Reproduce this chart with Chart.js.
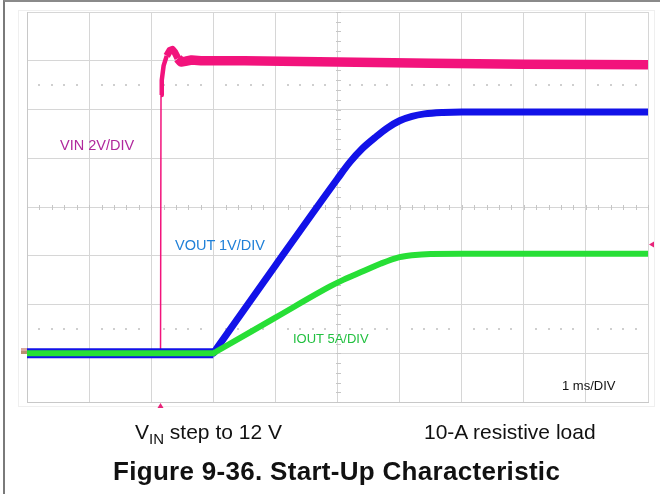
<!DOCTYPE html>
<html>
<head>
<meta charset="utf-8">
<script src="https://cdn.jsdelivr.net/npm/chart.js@4/dist/chart.umd.min.js"></script>
<style>
  html, body { margin: 0; padding: 0; background: #fff; }
  #wrap { position: relative; width: 660px; height: 494px; overflow: hidden; }
  #frame { position: absolute; left: 3px; top: 0; width: 660px; height: 494px;
           border-left: 2px solid #7a7a7a; border-top: 2px solid #8a8a8a; box-sizing: border-box; }
  canvas { position: absolute; left: 0; top: 0; }
  .lbl { position: absolute; white-space: nowrap; line-height: 1;
         font-family: "Liberation Sans", Arial, sans-serif; }
</style>
</head>
<body>
<div id="wrap">
  <div id="frame"></div>
  <canvas id="scope" width="660" height="494"></canvas>
  <div class="lbl" style="left:60px; top:138px; font-size:14.5px; color:#B0289C;">VIN 2V/DIV</div>
  <div class="lbl" style="left:175px; top:238px; font-size:14.5px; color:#2080D8;">VOUT 1V/DIV</div>
  <div class="lbl" style="left:293px; top:332px; font-size:13px; color:#22C040;">IOUT 5A/DIV</div>
  <div class="lbl" style="left:562px; top:379px; font-size:13px; color:#111;">1 ms/DIV</div>
  <div class="lbl" style="left:135px; top:421px; font-size:21px; color:#111;">V<span style="font-size:15px; position:relative; top:5px;">IN</span> step to 12 V</div>
  <div class="lbl" style="left:424px; top:421px; font-size:21px; color:#111;">10-A resistive load</div>
  <div class="lbl" style="left:113px; top:458px; font-size:26px; font-weight:bold; letter-spacing:0.3px; color:#111;">Figure 9-36. Start-Up Characteristic</div>
</div>
<script>
// Start-up capture: time in ms across 10 divisions (1 ms/DIV).
// Channel settings (units per division) and common ground position (divisions).
const vinPerDiv = 2;     // V/DIV
const voutPerDiv = 1;    // V/DIV
const ioutPerDiv = 5;    // A/DIV
const groundDiv = -3;

// Input voltage step to 12 V
const vinTimeMs = [0, 2.15, 2.158, 2.17, 2.2, 2.25, 2.3, 2.34, 2.38, 2.43, 2.48, 2.55, 2.65, 2.8, 3.5, 5.0, 6.5, 8.0, 10.0];
const vinVolts  = [0, 0,    10.6,  11.2, 11.8, 12.2, 12.42, 12.47, 12.35, 12.1, 11.95, 11.98, 12.03, 12.0, 12.0, 11.95, 11.9, 11.86, 11.84];

// Output voltage soft-start ramp
const voutTimeMs = [0, 3.0, 3.05, 4.0, 5.0, 5.2, 5.4, 5.6, 5.8, 6.0, 6.2, 6.4, 6.7, 7.0, 10.0];
const voutVolts  = [0, 0,   0.09, 1.80, 3.58, 3.92, 4.2, 4.42, 4.62, 4.77, 4.86, 4.91, 4.94, 4.95, 4.95];

// Output current into the 10-A resistive load
const ioutTimeMs = [0, 3.0, 3.05, 4.0, 4.88, 5.1, 5.4, 5.7, 6.0, 6.2, 6.5, 7.0, 10.0];
const ioutAmps   = [0, 0,   0.18, 3.65, 6.85, 7.55, 8.38, 9.2, 9.85, 10.05, 10.18, 10.2, 10.2];

const vinStepMs = 2.15;       // trigger position
const triggerLevelV = 4.46;   // trigger level on VIN

function toDivs(times, values, perDiv) {
  return times.map((t, i) => ({ x: t, y: values[i] / perDiv + groundDiv }));
}

// Scope graticule details: centre-line minor ticks, dotted rows and channel markers
const graticule = {
  id: 'graticule',
  beforeDatasetsDraw(chart) {
    const { ctx, chartArea: a, scales: { x, y } } = chart;
    ctx.save();
    ctx.strokeStyle = '#efefef';
    ctx.lineWidth = 1;
    ctx.strokeRect(18.5, 10.5, 636, 396);
    ctx.fillStyle = '#c6c6c6';
    const xc = Math.round(x.getPixelForValue(5));
    const yc = Math.round(y.getPixelForValue(0));
    for (let i = 0; i <= 50; i++) {
      const px = Math.round(x.getPixelForValue(i * 0.2));
      ctx.fillRect(px, yc - 2, 1, 5);
    }
    for (let i = 0; i <= 40; i++) {
      const py = Math.round(y.getPixelForValue(-4 + i * 0.2));
      ctx.fillRect(xc - 2, py, 5, 1);
    }
    ctx.fillStyle = '#cfcfcf';
    [2.5, -2.5].forEach(d => {
      const py = Math.round(y.getPixelForValue(d));
      for (let i = 1; i < 50; i++) {
        if (i % 5 === 0) continue;
        const px = Math.round(x.getPixelForValue(i * 0.2));
        ctx.fillRect(px - 1, py - 1, 2, 2);
      }
    });
    ctx.restore();
  },
  afterDraw(chart) {
    const { ctx, chartArea: a, scales: { x, y } } = chart;
    ctx.save();
    ctx.fillStyle = '#E8247A';
    // trigger position
    const tx = x.getPixelForValue(vinStepMs);
    ctx.beginPath();
    ctx.moveTo(tx, a.bottom + 1);
    ctx.lineTo(tx + 3, a.bottom + 6);
    ctx.lineTo(tx - 3, a.bottom + 6);
    ctx.closePath();
    ctx.fill();
    // trigger level
    const ty = y.getPixelForValue(triggerLevelV / vinPerDiv + groundDiv);
    ctx.beginPath();
    ctx.moveTo(a.right + 1, ty);
    ctx.lineTo(a.right + 6, ty - 3);
    ctx.lineTo(a.right + 6, ty + 3);
    ctx.closePath();
    ctx.fill();
    // ground reference markers
    const gy = Math.round(y.getPixelForValue(groundDiv));
    ctx.fillStyle = '#d9a8a0';
    ctx.fillRect(a.left - 6, gy - 5, 6, 3);
    ctx.fillStyle = '#b89070';
    ctx.fillRect(a.left - 6, gy - 2, 6, 3);
    ctx.restore();
  }
};

new Chart(document.getElementById('scope'), {
  type: 'line',
  data: {
    datasets: [
      {
        label: 'IOUT',
        data: toDivs(ioutTimeMs, ioutAmps, ioutPerDiv),
        borderColor: '#27DF36',
        borderWidth: 6,
        cubicInterpolationMode: 'monotone'
      },
      {
        label: 'VOUT',
        data: toDivs(voutTimeMs, voutVolts, voutPerDiv),
        borderColor: '#1212E8',
        borderWidth: 7,
        cubicInterpolationMode: 'monotone',
        segment: { borderWidth: c => c.p1.parsed.x <= 3.0 ? 10 : 7 }
      },
      {
        label: 'VIN',
        data: toDivs(vinTimeMs, vinVolts, vinPerDiv),
        borderColor: '#F2137C',
        borderWidth: 9.5,
        tension: 0,
        segment: {
          borderWidth: c => {
            const t = c.p1.parsed.x;
            if (t <= 2.159) return 1.5;
            if (t <= 2.26) return 4.5;
            if (t <= 2.44) return 7;
            return 9.5;
          }
        }
      }
    ]
  },
  options: {
    responsive: false,
    animation: false,
    devicePixelRatio: 1,
    layout: { padding: { left: 27, top: 12, right: 12, bottom: 92 } },
    plugins: { legend: { display: false }, tooltip: { enabled: false } },
    elements: {
      point: { radius: 0 },
      line: { borderCapStyle: 'butt', borderJoinStyle: 'round', tension: 0 }
    },
    scales: {
      x: {
        type: 'linear', min: 0, max: 10,
        ticks: { display: false, stepSize: 1 },
        grid: { color: '#d6d6d6', drawTicks: false },
        border: { color: '#c8c8c8' }
      },
      y: {
        type: 'linear', min: -4, max: 4,
        ticks: { display: false, stepSize: 1 },
        grid: { color: '#d6d6d6', drawTicks: false },
        border: { color: '#c8c8c8' }
      }
    }
  },
  plugins: [graticule]
});
</script>
</body>
</html>
